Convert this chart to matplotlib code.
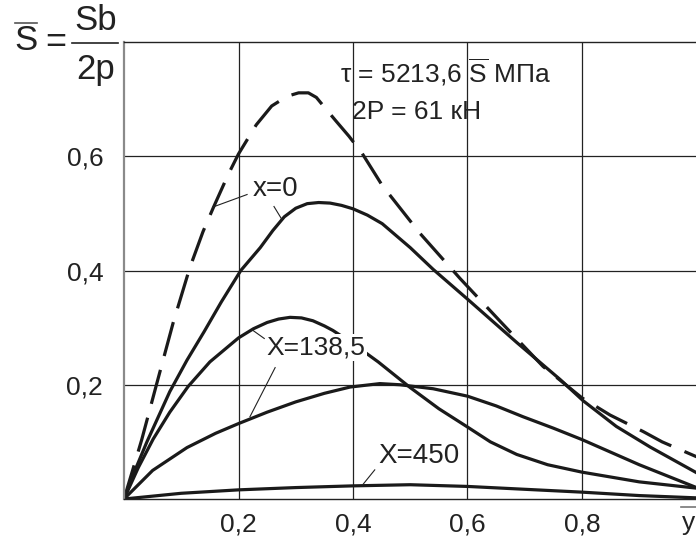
import matplotlib.pyplot as plt
from matplotlib.lines import Line2D

plt.rcParams['font.family'] = ['Liberation Sans', 'DejaVu Sans']
plt.rcParams['mathtext.fontset'] = 'custom'
plt.rcParams['mathtext.rm'] = 'Liberation Sans'

# штриховая кривая (x=0)
y_dash = [0, 0.015, 0.031, 0.058, 0.086, 0.115, 0.138, 0.156, 0.182, 0.2, 0.231, 0.258,
          0.285, 0.305, 0.322, 0.336, 0.35, 0.37, 0.393, 0.416, 0.451, 0.517, 0.587, 0.659,
          0.732, 0.8, 0.849, 0.907, 0.94, 1.0]
s_dash = [0, 0.05, 0.104, 0.205, 0.309, 0.405, 0.468, 0.51, 0.568, 0.604, 0.655, 0.688,
          0.705, 0.711, 0.711, 0.703, 0.686, 0.662, 0.635, 0.605, 0.549, 0.465, 0.386, 0.309,
          0.232, 0.177, 0.147, 0.118, 0.1, 0.074]

# x=0, сплошная
y_x0 = [0, 0.02, 0.04, 0.08, 0.11, 0.14, 0.17, 0.204, 0.238, 0.26, 0.28, 0.3, 0.32, 0.34,
        0.36, 0.38, 0.4, 0.425, 0.451, 0.5, 0.54, 0.601, 0.686, 0.762, 0.802, 0.86, 0.919, 1.0]
s_x0 = [0, 0.052, 0.1, 0.188, 0.243, 0.293, 0.345, 0.4, 0.44, 0.47, 0.494, 0.509, 0.517,
        0.519, 0.518, 0.514, 0.508, 0.497, 0.482, 0.44, 0.402, 0.349, 0.274, 0.209, 0.172,
        0.127, 0.091, 0.046]

# X=138,5 (верхняя)
y_138a = [0, 0.025, 0.051, 0.08, 0.112, 0.15, 0.2, 0.226, 0.25, 0.27, 0.29, 0.31, 0.33,
          0.35, 0.365, 0.4, 0.444, 0.5, 0.55, 0.6, 0.64, 0.686, 0.74, 0.8, 0.9, 1.0]
s_138a = [0, 0.055, 0.105, 0.152, 0.197, 0.24, 0.282, 0.298, 0.309, 0.315, 0.318, 0.317,
          0.312, 0.303, 0.295, 0.272, 0.24, 0.195, 0.158, 0.126, 0.1, 0.078, 0.06, 0.047,
          0.03, 0.019]

# X=138,5 (нижняя)
y_138b = [0, 0.05, 0.11, 0.16, 0.2, 0.25, 0.3, 0.35, 0.395, 0.447, 0.482, 0.54, 0.6, 0.65,
          0.697, 0.75, 0.8, 0.9, 1.0]
s_138b = [0, 0.05, 0.09, 0.115, 0.132, 0.152, 0.17, 0.185, 0.196, 0.202, 0.2, 0.193, 0.18,
          0.163, 0.144, 0.124, 0.104, 0.06, 0.02]

# X=450
y_450 = [0, 0.1, 0.2, 0.3, 0.4, 0.5, 0.6, 0.7, 0.8, 0.9, 1.0]
s_450 = [0, 0.01, 0.016, 0.02, 0.023, 0.025, 0.022, 0.017, 0.012, 0.006, 0.002]

xt = [0.2, 0.4, 0.6, 0.8]
xt_lab = ['0,2', '0,4', '0,6', '0,8']
yt = [0.2, 0.4, 0.6]
yt_lab = ['0,2', '0,4', '0,6']

W, H = 696, 541
fig = plt.figure(figsize=(W / 100, H / 100), dpi=100)
ax = fig.add_axes([124 / W, 1 - 499 / H, 1.02 * 572.5 / W, 457 / H])
ax.set_xlim(0, 1.02)
ax.set_ylim(0, 0.8)

ax.set_xticks(xt, xt_lab)
ax.set_yticks(yt, yt_lab)
ax.tick_params(length=0, labelsize=19, colors='#222222')
ax.tick_params(axis='y', pad=15)
ax.tick_params(axis='x', pad=10)
ax.grid(color='#222222', lw=0.9)
ax.spines['right'].set_visible(False)
ax.spines['left'].set_color('#8a8a8a')
ax.spines['left'].set_linewidth(1.6)
for s in ['top', 'bottom']:
    ax.spines[s].set_color('#222222')
    ax.spines[s].set_linewidth(1.0)

c = '#1a1a1a'
ln, = ax.plot(y_dash, s_dash, color=c, lw=2.3)
ln.set_dashes((11, 4.5))
ax.plot(y_x0, s_x0, color=c, lw=2.3)
ax.plot(y_138a, s_138a, color=c, lw=2.3)
ax.plot(y_138b, s_138b, color=c, lw=2.3)
ax.plot(y_450, s_450, color=c, lw=2.3)

fs = 19
ax.text(0.377, 0.747, 'τ = 5213,6 $\\overline{\\mathrm{S}}$ МПа', fontsize=fs, ha='left', va='center', color='#222222')
ax.text(0.398, 0.677, '2P = 61 кН', fontsize=fs, ha='left', va='center', color='#222222')

ax.text(0.264, 0.542, 'x=0', fontsize=fs + 1, ha='center', va='center', color='#222222')
ax.text(0.335, 0.265, 'X=138,5', fontsize=fs, ha='center', va='center', color='#222222',
        bbox=dict(facecolor='white', edgecolor='none', pad=1))
ax.text(0.515, 0.075, 'X=450', fontsize=fs + 1, ha='center', va='center', color='#222222')

# выноски
leaders = [((0.215, 0.533), (0.155, 0.511)),
           ((0.262, 0.512), (0.276, 0.489)),
           ((0.245, 0.281), (0.224, 0.296)),
           ((0.264, 0.23), (0.22, 0.144)),
           ((0.438, 0.051), (0.417, 0.025))]
for a, b in leaders:
    ax.plot([a[0], b[0]], [a[1], b[1]], color='#222222', lw=0.8)

# формула в левом верхнем углу
def fx(px):
    return px / W

def fy(py):
    return 1 - py / H

fig.text(fx(26), fy(40), 'S', fontsize=25, ha='center', va='center', color='#222222')
fig.add_artist(Line2D([fx(15), fx(37)], [fy(23), fy(23)], color='#555555', lw=1.2))
fig.text(fx(56), fy(43), '=', fontsize=26, ha='center', va='center', color='#222222')
fig.text(fx(96), fy(21), 'Sb', fontsize=25, ha='center', va='center', color='#222222')
fig.add_artist(Line2D([fx(72), fx(118)], [fy(43), fy(43)], color='#222222', lw=1.2))
fig.text(fx(96), fy(70), '2p', fontsize=25, ha='center', va='center', color='#222222')

# подпись оси
fig.text(fx(682), fy(523), 'y', fontsize=fs, ha='left', va='center', color='#222222')
fig.add_artist(Line2D([fx(681), fx(700)], [fy(507), fy(507)], color='#777777', lw=1.2))

fig.savefig('out.png', dpi=100)
